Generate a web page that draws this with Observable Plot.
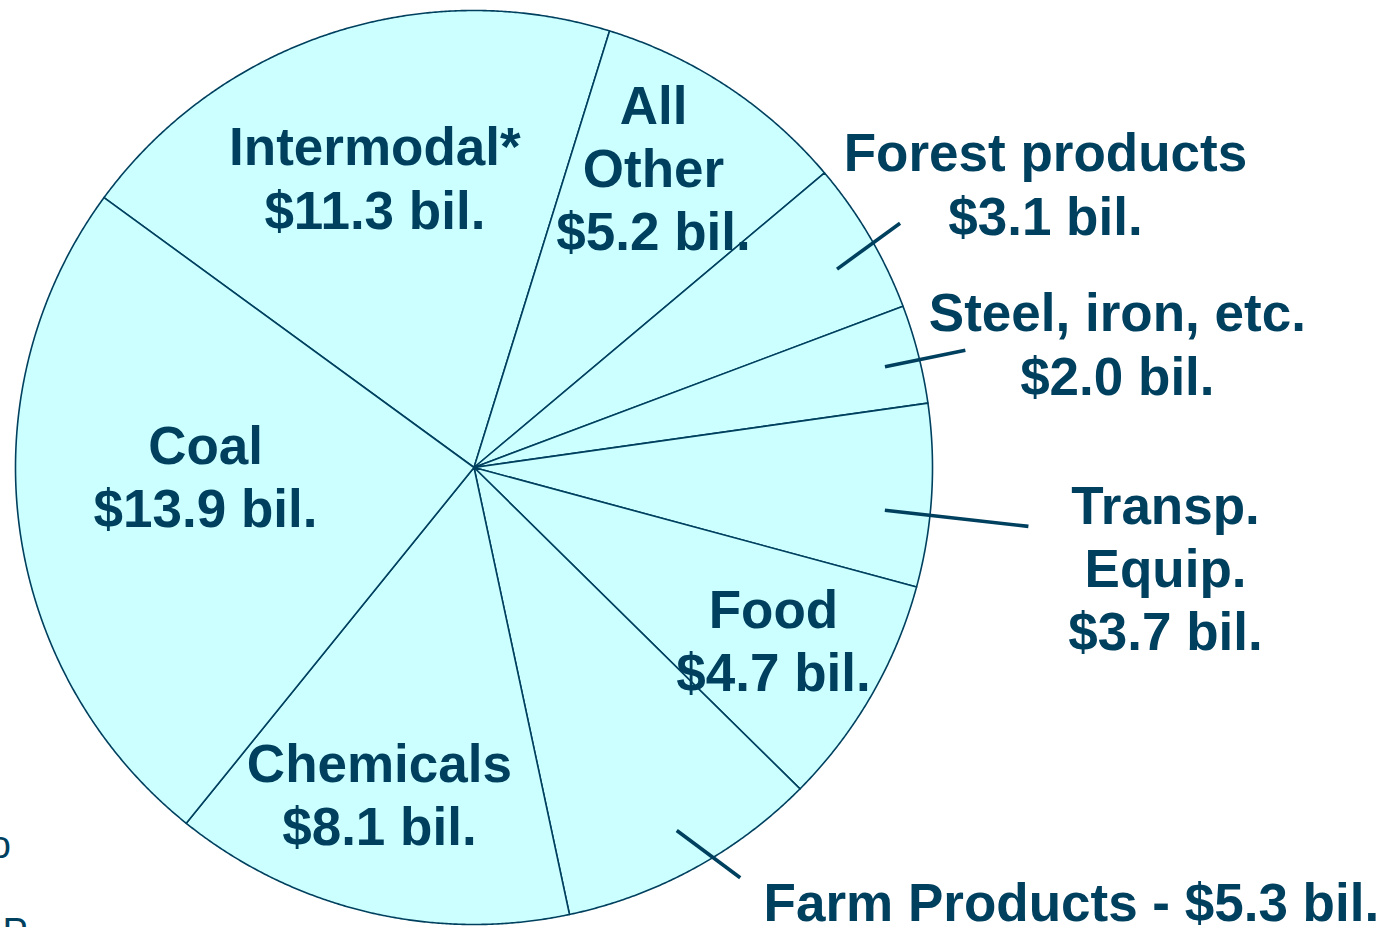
<!DOCTYPE html>
<html><head><meta charset="utf-8">
<script src="https://cdn.jsdelivr.net/npm/d3@7"></script>
<script src="https://cdn.jsdelivr.net/npm/@observablehq/plot@0.6"></script>
<style>html,body{margin:0;padding:0;background:#fff;overflow:hidden;} #chart svg{display:block}</style>
</head><body><div id="chart"></div>
<script>
// ---- data ----
const categories = ["Intermodal*", "All Other", "Forest products", "Steel, iron, etc.", "Transp. Equip.", "Food", "Farm Products", "Chemicals", "Coal"];
const values = [11.3, 5.2, 3.1, 2.0, 3.7, 4.7, 5.3, 8.1, 13.9];
const labelNames = ["Intermodal*\n", "All\nOther\n", "Forest products\n", "Steel, iron, etc.\n", "Transp.\nEquip.\n", "Food\n", "Farm Products - ", "Chemicals\n", "Coal\n"];
const fragments = ["o", "P"];

// ---- layout (polar offsets relative to each slice's mid-angle) ----
const labelPlace = [
  {da: -0.67, r: 0.665}, {da: -2.47, r: 0.759}, {da: 4.12, r: 1.39}, {da: 3.68, r: 1.428},
  {da: 4.95, r: 1.525}, {da: 0.45, r: 0.757}, {da: -25.06, r: 1.616}, {da: 2.54, r: 0.75}, {da: 5.02, r: 0.586}
];
const leaderPlace = [
  null, null, {da0: 1.66, r0: 0.903, da1: 0.49, r1: 1.072}, {da0: 0.57, r0: 0.923, da1: 0.9, r1: 1.102},
  {da0: 2.44, r0: 0.901, da1: 2.55, r1: 1.216}, null, {da0: -0.44, r0: 0.909, da1: -4.23, r1: 1.069}, null, null
];
const ink = "#00405f";
const deg = Math.PI / 180;
const start = -53.8 * deg;

const arcs = d3.pie().sort(null).value(d => d).startAngle(start).endAngle(start + 2 * Math.PI)(values);
const P = (a, r) => ({x: r * Math.sin(a), y: r * Math.cos(a)});

const slicePts = [];
arcs.forEach((a, i) => {
  slicePts.push({i, ...P(0, 0)});
  const n = Math.ceil((a.endAngle - a.startAngle) / (0.25 * deg));
  for (let k = 0; k <= n; k++) slicePts.push({i, ...P(a.startAngle + (a.endAngle - a.startAngle) * k / n, 1)});
});

const labels = arcs.map((a, i) => {
  const mid = (a.startAngle + a.endAngle) / 2;
  const p = P(mid + labelPlace[i].da * deg, labelPlace[i].r);
  return {...p, text: `${labelNames[i]}$${values[i].toFixed(1)} bil.`, name: categories[i]};
});

const leaders = [];
arcs.forEach((a, i) => {
  const L = leaderPlace[i]; if (!L) return;
  const mid = (a.startAngle + a.endAngle) / 2;
  const p0 = P(mid + L.da0 * deg, L.r0), p1 = P(mid + L.da1 * deg, L.r1);
  leaders.push({x1: p0.x, y1: p0.y, x2: p1.x, y2: p1.y});
});

const font = "Liberation Sans, Arial, Helvetica, sans-serif";
const chart = Plot.plot({
  width: 1388, height: 927, margin: 0,
  x: {domain: [-1, 1], range: [15, 932], axis: null},
  y: {domain: [-1, 1], range: [924, 10], axis: null},
  style: {background: "#fff", overflow: "visible"},
  marks: [
    Plot.line(slicePts, {x: "x", y: "y", z: "i", curve: "linear-closed", fill: "#ccffff", stroke: ink, strokeWidth: 1.6, strokeLinejoin: "round"}),
    Plot.link(leaders, {x1: "x1", y1: "y1", x2: "x2", y2: "y2", stroke: ink, strokeWidth: 3.6, strokeLinecap: "butt"}),
    Plot.text(labels, {x: "x", y: "y", dy: -3.5, text: "text", fontSize: 53, fontWeight: "bold", fontFamily: font, fill: ink, lineHeight: 1.195}),
    Plot.text([fragments[0]], {frameAnchor: "left", dx: 10.5, dy: 381.5, textAnchor: "end", text: d => d, fontSize: 38, fontFamily: font, fill: ink}),
    Plot.text([fragments[1]], {frameAnchor: "bottom-left", dx: 2, dy: -9, lineAnchor: "top", textAnchor: "start", text: d => d, fontSize: 38, fontFamily: font, fill: ink})
  ]
});
document.getElementById("chart").append(chart);
</script>
</body></html>
